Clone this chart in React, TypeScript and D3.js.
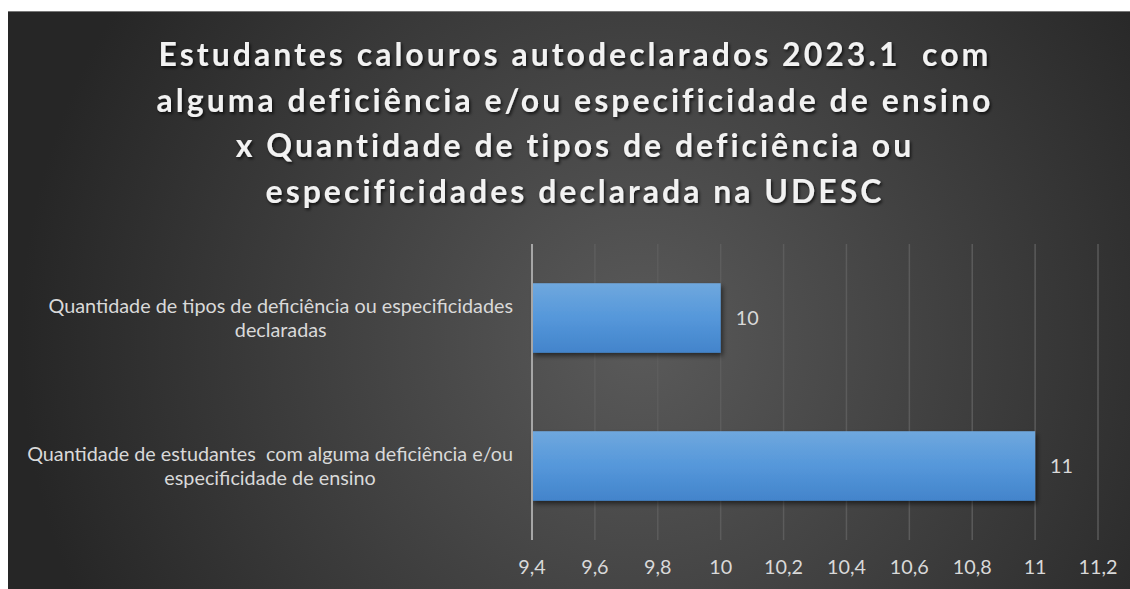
import React, { useRef, useEffect } from "react";
import * as d3 from "d3";

const titleLines = [
  "Estudantes calouros autodeclarados 2023.1  com",
  "alguma deficiência e/ou especificidade de ensino",
  "x Quantidade de tipos de deficiência ou",
  "especificidades declarada na UDESC",
];

// categories top to bottom, each split into its label lines
const categories = [
  ["Quantidade de tipos de deficiência ou especificidades", "declaradas"],
  ["Quantidade de estudantes  com alguma deficiência e/ou", "especificidade de ensino"],
];
const values = [10, 11];
const xTicks = [9.4, 9.6, 9.8, 10, 10.2, 10.4, 10.6, 10.8, 11, 11.2];

const W = 1130;
const H = 589;
const FONT = "Lato, 'Open Sans', sans-serif";
const LABEL_SIZE = 19.8;

function App() {
  const svgRef = useRef<SVGSVGElement>(null);

  useEffect(() => {
    const svg = d3.select(svgRef.current);
    svg.selectAll("*").remove();
    svg.attr("width", W).attr("height", H);

    const defs = svg.append("defs");

    // background radial gradient
    const bg = defs
      .append("radialGradient")
      .attr("id", "bg")
      .attr("gradientUnits", "userSpaceOnUse")
      .attr("cx", 640)
      .attr("cy", 340)
      .attr("r", 620);
    bg.append("stop").attr("offset", "0%").attr("stop-color", "#5a5a5a");
    bg.append("stop").attr("offset", "100%").attr("stop-color", "#262626");

    const barGrad = defs
      .append("linearGradient")
      .attr("id", "bar")
      .attr("x1", 0)
      .attr("y1", 0)
      .attr("x2", 0)
      .attr("y2", 1);
    barGrad.append("stop").attr("offset", "0%").attr("stop-color", "#6fa8de");
    barGrad.append("stop").attr("offset", "50%").attr("stop-color", "#5597da");
    barGrad.append("stop").attr("offset", "100%").attr("stop-color", "#4384cb");

    const shadow = defs.append("filter").attr("id", "shadow").attr("x", "-10%").attr("y", "-10%").attr("width", "130%").attr("height", "140%");
    shadow
      .append("feDropShadow")
      .attr("dx", 2)
      .attr("dy", 3)
      .attr("stdDeviation", 2.5)
      .attr("flood-color", "#000")
      .attr("flood-opacity", 0.55);

    const tshadow = defs.append("filter").attr("id", "tshadow").attr("x", "-5%").attr("y", "-20%").attr("width", "110%").attr("height", "150%");
    tshadow
      .append("feDropShadow")
      .attr("dx", 1.5)
      .attr("dy", 2)
      .attr("stdDeviation", 1.5)
      .attr("flood-color", "#000")
      .attr("flood-opacity", 0.7);

    svg.append("rect").attr("width", W).attr("height", H).attr("fill", "#fff");
    svg
      .append("rect")
      .attr("x", 8)
      .attr("y", 11)
      .attr("width", W - 8)
      .attr("height", H - 11)
      .attr("fill", "url(#bg)");
    svg
      .append("line")
      .attr("x1", 8)
      .attr("x2", W)
      .attr("y1", 11.5)
      .attr("y2", 11.5)
      .attr("stroke", "#777")
      .attr("stroke-width", 1);

    /* ------------------ TITLE ------------------ */
    const title = svg
      .append("text")
      .attr("text-anchor", "middle")
      .attr("fill", "#f2f2f2")
      .attr("font-family", FONT)
      .attr("font-weight", "bold")
      .attr("font-size", 32)
      .attr("letter-spacing", 3)
      .style("white-space", "pre")
      .attr("filter", "url(#tshadow)");
    titleLines.forEach((t, i) => {
      title
        .append("tspan")
        .attr("x", 575)
        .attr("y", 66 + i * 45.5)
        .text(t);
    });

    /* ------------------ SCALES ------------------ */
    const margin = { top: 244, left: 532, bottom: 540 };
    const xScale = d3.scaleLinear().domain([9.4, 11.2]).range([532, 1098]);
    const yScale = d3
      .scaleBand()
      .domain(categories.map((_, i) => String(i)))
      .range([margin.top, margin.bottom])
      .paddingInner(0.53)
      .paddingOuter(0.265);

    /* ------------------ GRID ------------------ */
    svg
      .append("g")
      .selectAll("line")
      .data(xTicks.slice(1))
      .enter()
      .append("line")
      .attr("x1", (d) => xScale(d))
      .attr("x2", (d) => xScale(d))
      .attr("y1", margin.top)
      .attr("y2", margin.bottom)
      .attr("stroke", "#5e5e5e")
      .attr("stroke-opacity", 0.9)
      .attr("stroke-width", 1.5);

    /* ------------------ BARS ------------------ */
    svg
      .append("g")
      .selectAll("rect")
      .data(values)
      .enter()
      .append("rect")
      .attr("x", xScale(9.4))
      .attr("y", (_, i) => yScale(String(i))!)
      .attr("width", (d) => xScale(d) - xScale(9.4))
      .attr("height", yScale.bandwidth())
      .attr("fill", "url(#bar)")
      .attr("filter", "url(#shadow)");

    // axis line
    svg
      .append("line")
      .attr("x1", xScale(9.4))
      .attr("x2", xScale(9.4))
      .attr("y1", margin.top)
      .attr("y2", margin.bottom)
      .attr("stroke", "#a6a6a6")
      .attr("stroke-width", 2);

    /* ------------------ VALUE LABELS ------------------ */
    svg
      .append("g")
      .selectAll("text")
      .data(values)
      .enter()
      .append("text")
      .attr("x", (d) => xScale(d) + 15)
      .attr("y", (_, i) => yScale(String(i))! + yScale.bandwidth() / 2)
      .attr("dy", "0.35em")
      .attr("fill", "#d9d9d9")
      .attr("font-family", FONT)
      .attr("font-size", LABEL_SIZE)
      .text((d) => String(d));

    /* ------------------ X TICK LABELS ------------------ */
    svg
      .append("g")
      .selectAll("text")
      .data(xTicks)
      .enter()
      .append("text")
      .attr("x", (d) => xScale(d))
      .attr("y", 574)
      .attr("text-anchor", "middle")
      .attr("fill", "#d9d9d9")
      .attr("font-family", FONT)
      .attr("font-size", LABEL_SIZE)
      .text((d) => String(+d.toFixed(1)).replace(".", ","));

    /* ------------------ CATEGORY LABELS ------------------ */
    categories.forEach((lines, i) => {
      const g = svg.append("g");
      const texts = lines.map((l, j) =>
        g
          .append("text")
          .attr("y", yScale(String(i))! + yScale.bandwidth() / 2 + (j - (lines.length - 1) / 2) * 24)
          .attr("dy", "0.35em")
          .attr("text-anchor", "middle")
          .attr("fill", "#d9d9d9")
          .attr("font-family", FONT)
          .attr("font-size", LABEL_SIZE)
          .style("white-space", "pre")
          .text(l)
      );
      const maxW = d3.max(texts, (t) => (t.node() as SVGTextElement).getComputedTextLength()) || 0;
      texts.forEach((t) => t.attr("x", 513 - maxW / 2));
    });
  }, []);

  return (
    <div style={{ position: "fixed", left: 0, top: 0, width: W, height: H, background: "#fff" }}>
      <svg ref={svgRef} style={{ display: "block" }}></svg>
    </div>
  );
}

export default App;
